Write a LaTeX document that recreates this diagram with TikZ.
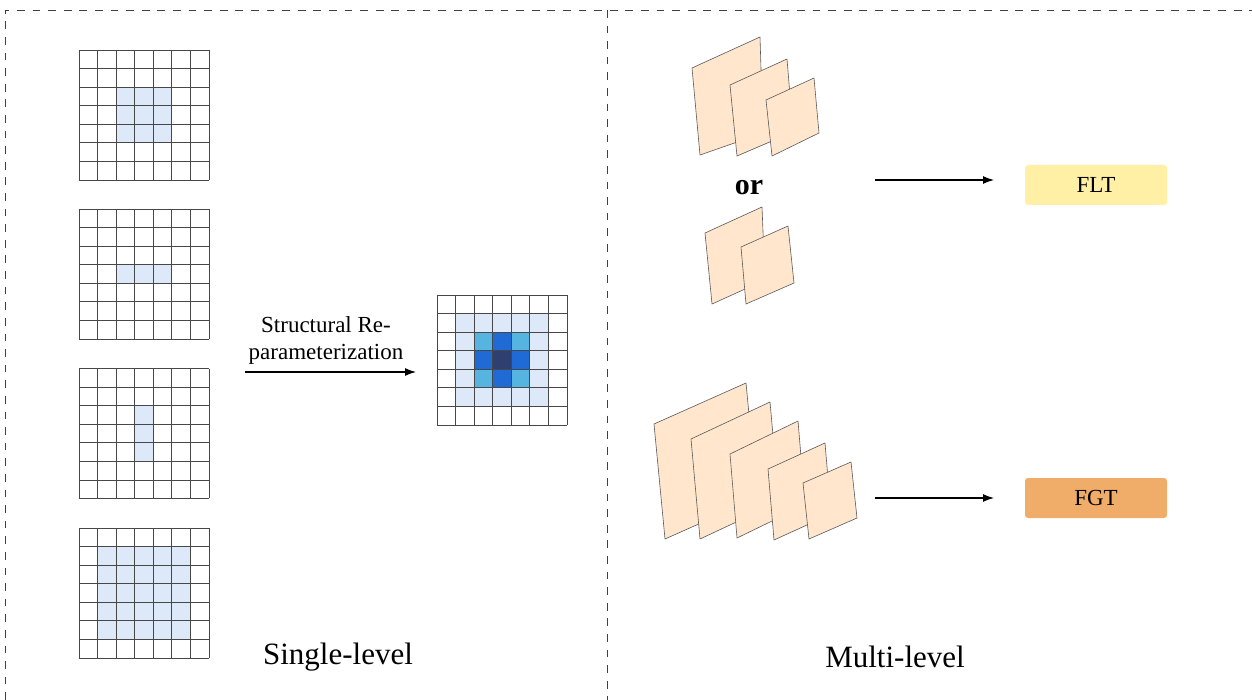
\documentclass[tikz,border=0pt]{standalone}
\usepackage{fontspec}
\setmainfont{Liberation Serif}
\usetikzlibrary{arrows.meta}
\definecolor{lb}{HTML}{DDE8F8}
\definecolor{mb}{HTML}{56B4E0}
\definecolor{bb}{HTML}{1F6AD4}
\definecolor{db}{HTML}{2F3F70}
\definecolor{peach}{HTML}{FFE6CC}
\definecolor{fltc}{HTML}{FFF0A6}
\definecolor{fgtc}{HTML}{F0AD6A}
\tikzset{
  gridline/.style={draw=black!72, line width=0.8pt},
  dashline/.style={draw=black!75, line width=0.9pt, dash pattern=on 7.7pt off 7.9pt},
  plane/.style={fill=peach, draw=black!65, line width=0.6pt, line join=round},
  arr/.style={-{Latex[length=11pt,width=8pt]}, line width=1.1pt},
  tag/.style={rounded corners=3pt, minimum width=142pt, minimum height=40pt, inner sep=0pt, font=\fontsize{23}{27}\selectfont},
  lbl/.style={font=\fontsize{31}{36}\selectfont, inner sep=0pt},
}
\newcommand\kgridlines{\foreach \i in {0,...,7}{\draw[gridline] (\i,0) -- (\i,7); \draw[gridline] (0,\i) -- (7,\i);}}
\begin{document}
\begin{tikzpicture}[x=1pt,y=-1pt]
\useasboundingbox (0,0) rectangle (1252,700);
\fill[white] (0,0) rectangle (1252,700);

% dashed frame
\draw[dashline] (5,700) -- (5,10) -- (1252,10);
\draw[dashline] (607,10) -- (607,700);

% grid 1
\node[minimum size=130pt, inner sep=0pt, anchor=north west] (g1) at (79,50) {};
\begin{scope}[shift={(79,50)}, x=18.571pt, y=-18.571pt]
  \fill[lb] (2,2) rectangle (5,5);
  \kgridlines
\end{scope}
% grid 2
\node[minimum size=130pt, inner sep=0pt, anchor=north west] (g2) at (79,209) {};
\begin{scope}[shift={(79,209)}, x=18.571pt, y=-18.571pt]
  \fill[lb] (2,3) rectangle (5,4);
  \kgridlines
\end{scope}
% grid 3
\node[minimum size=130pt, inner sep=0pt, anchor=north west] (g3) at (79,368.5) {};
\begin{scope}[shift={(79,368.5)}, x=18.571pt, y=-18.571pt]
  \fill[lb] (3,2) rectangle (4,5);
  \kgridlines
\end{scope}
% grid 4
\node[minimum size=130pt, inner sep=0pt, anchor=north west] (g4) at (79,528) {};
\begin{scope}[shift={(79,528)}, x=18.571pt, y=-18.571pt]
  \fill[lb] (1,1) rectangle (6,6);
  \kgridlines
\end{scope}
% merged grid
\node[minimum size=130pt, inner sep=0pt, anchor=north west] (gm) at (437,295) {};
\begin{scope}[shift={(437,295)}, x=18.571pt, y=-18.571pt]
  \fill[lb] (1,1) rectangle (6,6);
  \fill[mb] (2,2) rectangle (5,5);
  \fill[bb] (3,2) rectangle (4,5);
  \fill[bb] (2,3) rectangle (5,4);
  \fill[db] (3,3) rectangle (4,4);
  \kgridlines
\end{scope}

% reparameterization arrow
\coordinate (ra) at (245,372);
\coordinate (rb) at (416,372);
\draw[arr] (ra) -- (rb);
\node[align=center, inner sep=0pt, font=\fontsize{23}{27}\selectfont] (rl) at (326,340) {Structural Re-\\parameterization};

% top stack
\draw[plane] (692,68) -- (760,37) -- (763,133) -- (700,155) -- cycle;
\draw[plane] (730,85) -- (787,59) -- (793,132) -- (737,156) -- cycle;
\draw[plane] (766,100) -- (814,78) -- (819,133) -- (772,156) -- cycle;
\node[font=\bfseries\fontsize{30}{34}\selectfont, inner sep=0pt] (or) at (749,188) {or};
% middle stack
\draw[plane] (705,233) -- (762,207) -- (765,280) -- (712,304) -- cycle;
\draw[plane] (741,247) -- (788,226) -- (794,283) -- (746,304) -- cycle;
% bottom stack
\draw[plane] (654,424) -- (746,383) -- (757,498) -- (665,539) -- cycle;
\draw[plane] (691,439) -- (770,402) -- (779,502) -- (700,539) -- cycle;
\draw[plane] (730,454) -- (798,421) -- (805,505) -- (737,538) -- cycle;
\draw[plane] (768,469) -- (825,443) -- (831,514) -- (774,540) -- cycle;
\draw[plane] (803,483) -- (851,462) -- (857,518) -- (809,539) -- cycle;

% tags
\node[tag, fill=fltc] (flt) at (1096,185) {FLT};
\node[tag, fill=fgtc] (fgt) at (1096,498) {FGT};
\coordinate (ta) at (875,180);
\coordinate (tb) at (994,180);
\draw[arr] (ta) -- (tb);
\coordinate (ba) at (875,498);
\coordinate (bb) at (994,498);
\draw[arr] (ba) -- (bb);

% labels
\node[lbl] (sl) at (338,657) {Single-level};
\node[lbl] (ml) at (895,657) {Multi-level};
\end{tikzpicture}
\end{document}
